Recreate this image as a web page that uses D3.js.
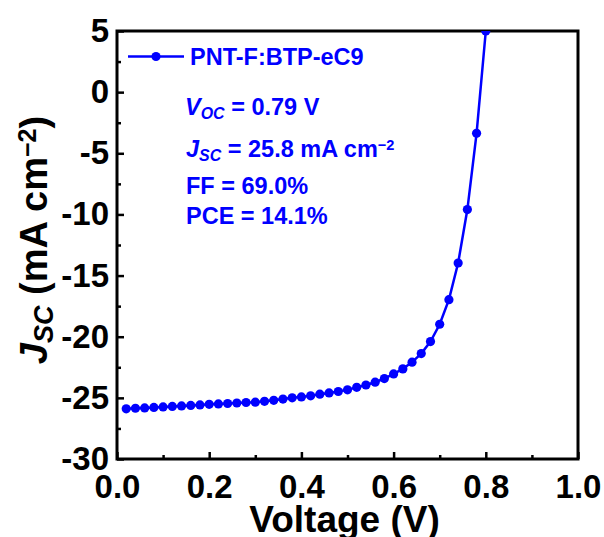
<!DOCTYPE html>
<html><head><meta charset="utf-8">
<script src="https://cdn.jsdelivr.net/npm/d3@7"></script>
<style>
html,body{margin:0;padding:0;background:#fff;}
svg{display:block;font-family:"Liberation Sans",Arial,sans-serif;font-weight:bold;}
</style></head>
<body>
<svg id="chart" width="604" height="537"></svg>
<script>
const voltage = [0.02,0.04,0.06,0.08,0.10,0.12,0.14,0.16,0.18,0.20,
  0.22,0.24,0.26,0.28,0.30,0.32,0.34,0.36,0.38,0.40,
  0.42,0.44,0.46,0.48,0.50,0.52,0.54,0.56,0.58,0.60,
  0.62,0.64,0.66,0.68,0.70,0.72,0.74,0.76,0.78,0.80];
const current = [-25.9,-25.85,-25.82,-25.78,-25.74,-25.7,-25.66,-25.62,-25.58,-25.53,
  -25.5,-25.46,-25.42,-25.38,-25.35,-25.28,-25.2,-25.1,-25.0,-24.92,
  -24.83,-24.7,-24.6,-24.48,-24.34,-24.14,-23.95,-23.72,-23.42,-23.04,
  -22.63,-22.08,-21.38,-20.4,-18.98,-16.97,-13.97,-9.6,-3.37,5.0];
const xTicks = [0.0,0.2,0.4,0.6,0.8,1.0];
const xMinor = [0.1,0.3,0.5,0.7,0.9];
const yTicks = [5,0,-5,-10,-15,-20,-25,-30];
const yMinor = [2.5,-2.5,-7.5,-12.5,-17.5,-22.5,-27.5];
const seriesName = "PNT-F:BTP-eC9";

const blue = "#0000ff";
const svg = d3.select("#chart");
const x = d3.scaleLinear().domain([0,1]).range([117,578]);
const y = d3.scaleLinear().domain([-30,5]).range([459,31]);

svg.append("defs").append("clipPath").attr("id","clip")
  .append("rect").attr("x",x(0)).attr("y",y(5)).attr("width",x(1)-x(0)).attr("height",y(-30)-y(5));

// axes
const gx = svg.append("g").attr("transform",`translate(0,${y(-30)})`)
  .call(d3.axisBottom(x).tickValues(xTicks).tickSize(-7).tickPadding(16).tickFormat(d3.format(".1f")));
const gxm = svg.append("g").attr("transform",`translate(0,${y(-30)})`)
  .call(d3.axisBottom(x).tickValues(xMinor).tickSize(-4).tickFormat(""));
const gy = svg.append("g").attr("transform",`translate(${x(0)},0)`)
  .call(d3.axisLeft(y).tickValues(yTicks).tickSize(-7).tickPadding(8).tickFormat(d=>String(d)));
const gym = svg.append("g").attr("transform",`translate(${x(0)},0)`)
  .call(d3.axisLeft(y).tickValues(yMinor).tickSize(-4).tickFormat(""));
[gx,gxm,gy,gym].forEach(g=>{
  g.select(".domain").remove();
  g.selectAll(".tick line").attr("stroke","#000").attr("stroke-width",2.5);
  g.selectAll("text").attr("fill","#000").attr("font-size",33).attr("font-family","Liberation Sans, Arial, sans-serif").attr("font-weight","bold");
});

// frame
svg.append("rect").attr("x",x(0)).attr("y",y(5)).attr("width",x(1)-x(0)).attr("height",y(-30)-y(5))
  .attr("fill","none").attr("stroke","#000").attr("stroke-width",3);

// data
const data = voltage.map((v,i)=>({v, j:current[i]}));
const plot = svg.append("g").attr("clip-path","url(#clip)");
plot.append("path").datum(data)
  .attr("d", d3.line().x(d=>x(d.v)).y(d=>y(d.j)))
  .attr("fill","none").attr("stroke",blue).attr("stroke-width",2.5);
plot.selectAll("circle").data(data).join("circle")
  .attr("cx",d=>x(d.v)).attr("cy",d=>y(d.j)).attr("r",4.6).attr("fill",blue);

// legend
svg.append("line").attr("x1",128).attr("x2",184).attr("y1",56.5).attr("y2",56.5)
  .attr("stroke",blue).attr("stroke-width",2.5);
svg.append("circle").attr("cx",156).attr("cy",56.5).attr("r",4.6).attr("fill",blue);
svg.append("text").attr("x",190).attr("y",65).attr("font-size",23.5).attr("fill",blue).text(seriesName);

// annotations
function richText(xp, yp, parts, size, color){
  const t = svg.append("text").attr("x",xp).attr("y",yp).attr("font-size",size).attr("fill",color);
  parts.forEach(p=>{
    const s = t.append("tspan").text(p.t);
    if(p.i) s.attr("font-style","italic");
    if(p.sub){ s.attr("font-size",size*0.68).attr("baseline-shift","-22%"); }
    if(p.sup){ s.attr("font-size",size*0.62).attr("baseline-shift","45%"); }
  });
  return t;
}
richText(185,115,[{t:"V",i:1},{t:"OC",i:1,sub:1},{t:" = 0.79 V"}],23.5,blue);
richText(186,157,[{t:"J",i:1},{t:"SC",i:1,sub:1},{t:" = 25.8 mA cm"},{t:"\u22122",sup:1}],23.5,blue);
richText(186,194,[{t:"FF = 69.0%"}],23.5,blue);
richText(186,224,[{t:"PCE = 14.1%"}],23.5,blue);

// axis titles
svg.append("text").attr("x",(x(0)+x(1))/2-3).attr("y",532).attr("text-anchor","middle")
  .attr("font-size",37).attr("fill","#000").text("Voltage (V)");
const yt = svg.append("text").attr("transform","translate(47,240) rotate(-90)")
  .attr("text-anchor","middle").attr("font-size",38).attr("fill","#000");
yt.append("tspan").attr("font-style","italic").text("J");
yt.append("tspan").attr("font-style","italic").attr("font-size",27).attr("baseline-shift","-22%").text("SC");
yt.append("tspan").text(" (mA cm");
yt.append("tspan").attr("font-size",25).attr("baseline-shift","45%").text("\u22122");
yt.append("tspan").text(")");
</script>
</body></html>
